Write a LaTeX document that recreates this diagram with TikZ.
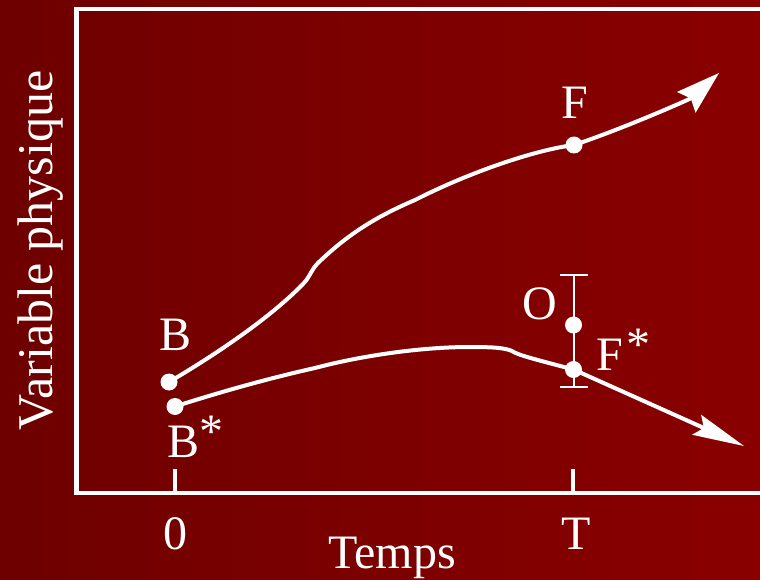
\documentclass[tikz,border=0pt]{standalone}
\usepackage{fontspec}
\setmainfont{Liberation Serif}
\usetikzlibrary{arrows.meta}
\definecolor{bgleft}{RGB}{110,0,0}
\definecolor{bgright}{RGB}{138,0,0}
\begin{document}
\begin{tikzpicture}[x=1pt,y=-1pt,
  framestyle/.style={draw=white,line width=4.6pt},
  tickstyle/.style={draw=white,line width=4.5pt},
  curve/.style={draw=white,line width=4pt},
  dot/.style={circle,fill=white,inner sep=0pt,minimum size=17pt},
  lbl/.style={text=white,inner sep=0pt,font=\fontsize{48}{48}\selectfont},
  barstyle/.style={draw=white,line width=2pt},
  headup/.style={-{Stealth[length=44pt,width=28pt,inset=6pt,line width=0pt]}},
  headdown/.style={-{Stealth[length=52pt,width=22pt,inset=8pt,line width=0pt]}}]
\useasboundingbox (0,0) rectangle (760,580);
\shade[left color=bgleft,right color=bgright] (0,0) rectangle (760,580);
\begin{scope}
\clip (0,0) rectangle (760,580);
\draw[framestyle] (775,9) -- (76.3,9) -- (76.3,493) -- (775,493);
\end{scope}
% ticks
\coordinate (t0a) at (175,469); \coordinate (t0b) at (175,493);
\coordinate (tTa) at (573,469); \coordinate (tTb) at (573,493);
\draw[tickstyle] (t0a) -- (t0b);
\draw[tickstyle] (tTa) -- (tTb);
% error bar
\coordinate (ebtop) at (573.5,275);
\coordinate (ebbot) at (573.5,387);
\draw[barstyle] (ebtop) -- (ebbot);
\draw[barstyle] ([xshift=-13.5pt]ebtop) -- ([xshift=14pt]ebtop);
\draw[barstyle] ([xshift=-13.5pt]ebbot) -- ([xshift=14pt]ebbot);
% dots
\node[dot] (B) at (169,382) {};
\node[dot] (Bs) at (175,406.5) {};
\node[dot] (F) at (574,145) {};
\node[dot] (O) at (573.5,325) {};
\node[dot] (Fs) at (573.5,369.5) {};
% curve helpers
\coordinate (k1) at (303,284);
\coordinate (k2) at (318,263);
\coordinate (k3) at (415,200);
\coordinate (tipF) at (719,73);
\coordinate (l1) at (315,368);
\coordinate (l2) at (470,347);
\coordinate (l3) at (512,351);
\coordinate (tipFs) at (744,446);
% upper curve
\draw[curve,line cap=round] (B.center) .. controls (215,355) and (270,318) .. (k1)
  .. controls (310,277) and (311,270) .. (k2)
  .. controls (350,232) and (380,215) .. (k3)
  .. controls (470,172) and (535,150) .. (F.center);
\draw[curve,headup] (F.center) .. controls (625,128) and (690,99) .. (tipF);
% lower curve
\draw[curve,line cap=round] (Bs.center) .. controls (220,392) and (270,378) .. (l1)
  .. controls (360,356) and (420,347) .. (l2)
  .. controls (495,347) and (505,348) .. (l3)
  .. controls (518,355) and (530,358) .. (Fs.center);
\draw[curve,headdown] (Fs.center) -- (tipFs);
% labels
\node[lbl,anchor=base] (labB) at (176,350) {B};
\node[lbl,anchor=base west] (labBs) at (167,457) {B\raisebox{10pt}{*}};
\node[lbl,anchor=base] (labF) at (575,119) {F};
\node[lbl,anchor=base] (labO) at (539.5,319) {O};
\node[lbl,anchor=base west] (labFs) at (596.5,370) {F\kern3.5pt\raisebox{10pt}{*}};
\node[lbl,anchor=base] (lab0) at (175,549) {0};
\node[lbl,anchor=base] (labT) at (576,549) {T};
\node[lbl,anchor=base] (labTemps) at (392,568) {Temps};
\node[lbl,anchor=base,rotate=90,font=\fontsize{50}{50}\selectfont] (labVar) at (52,250.5) {Variable physique};
\end{tikzpicture}
\end{document}
